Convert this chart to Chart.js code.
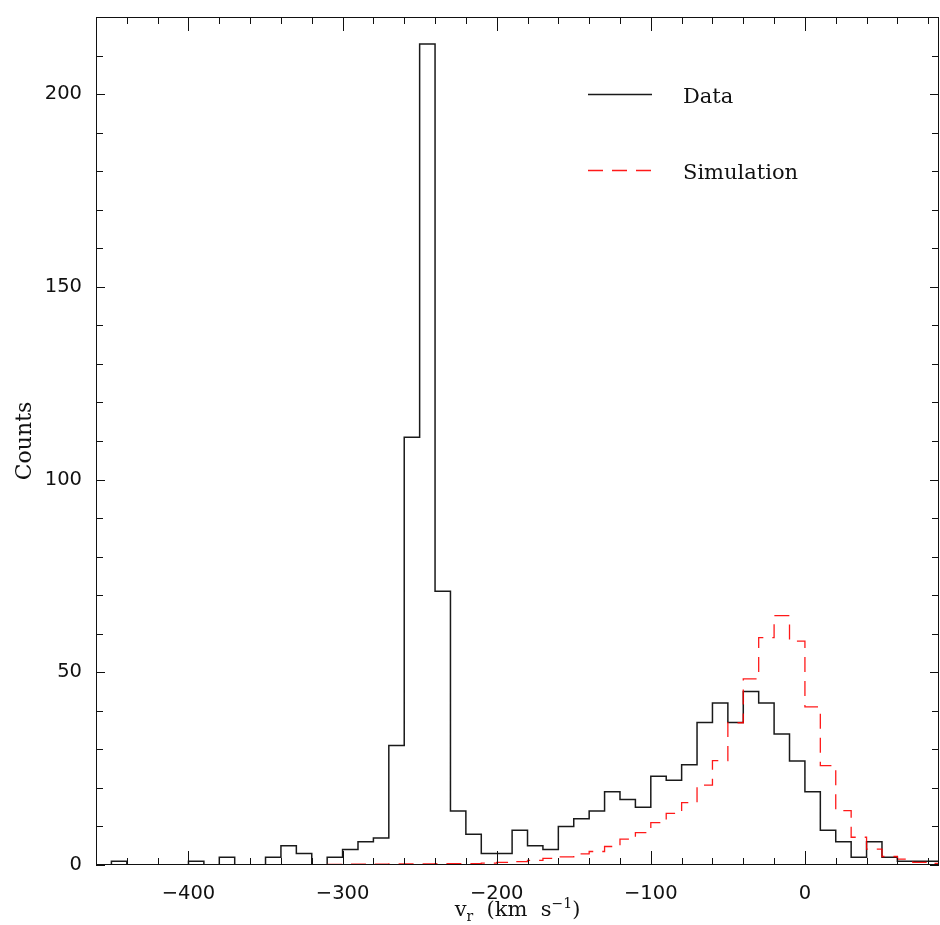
<!DOCTYPE html>
<html>
<head>
<meta charset="utf-8">
<script src="https://cdn.jsdelivr.net/npm/chart.js@4.4.1/dist/chart.umd.min.js"></script>
<style>
  html, body { margin: 0; padding: 0; background: #fff; }
</style>
</head>
<body>
<canvas id="histChart" width="940" height="925"></canvas>
<script>
// left edge of every 10 km/s bin
const binLeft = [
  -460, -450, -440, -430, -420, -410, -400, -390, -380, -370, -360,
  -350, -340, -330, -320, -310, -300, -290, -280, -270, -260,
  -250, -240, -230, -220, -210, -200, -190, -180, -170, -160,
  -150, -140, -130, -120, -110, -100, -90, -80, -70, -60,
  -50, -40, -30, -20, -10, 0, 10, 20, 30, 40, 50, 60, 70, 80
];
const binWidth = 10;

const dataCounts = [
  0, 1, 0, 0, 0, 0, 1, 0, 2, 0, 0,
  2, 5, 3, 0, 2, 4, 6, 7, 31, 111,
  213, 71, 14, 8, 3, 3, 9, 5, 4, 10,
  12, 14, 19, 17, 15, 23, 22, 26, 37, 42,
  37, 45, 42, 34, 27, 19, 9, 6, 2, 6, 2, 1, 1, 1
];

const simCounts = [
  null, null, null, null, null, null, null, null, null, null, null,
  null, null, null, null, 0.15, 0.2, 0.2, 0.25, 0.3, 0.3,
  0.3, 0.35, 0.35, 0.35, 0.5, 0.7, 0.9, 1.2, 1.7, 2.1,
  2.9, 3.5, 4.8, 6.7, 8.4, 11, 13.4, 16.2, 20.7, 27.1,
  36.9, 48.3, 59, 64.7, 58.1, 41, 25.8, 14.1, 7.2, 4.1, 2.2, 1.5, 0.7, 0.4
];

const xTickValues = [-400, -300, -200, -100, 0];
const yTickValues = [0, 50, 100, 150, 200];
const seriesNames = ["Data", "Simulation"];

// turn bins into step points (value held until the next edge)
function stepPoints(counts) {
  const pts = [];
  let last = null;
  counts.forEach((c, i) => {
    if (c === null) return;
    pts.push({ x: binLeft[i], y: c });
    last = i;
  });
  if (last !== null) pts.push({ x: binLeft[last] + binWidth, y: counts[last] });
  return pts;
}

const minus = (v) => String(v).replace("-", "\u2212");

const framePlugin = {
  id: "frame",
  afterDatasetsDraw(chart) {
    const { ctx, chartArea: a, scales } = chart;
    const xs = scales.x, ys = scales.y;
    ctx.save();
    ctx.strokeStyle = "#111";
    ctx.lineWidth = 1;
    ctx.strokeRect(a.left + 0.5, a.top + 0.5, a.right - a.left - 1, a.bottom - a.top - 1);

    ctx.beginPath();
    // x ticks every 20, long at every 100
    for (let v = xs.min; v <= xs.max; v++) {
      if (v % 20 !== 0) continue;
      const px = Math.round(xs.getPixelForValue(v)) + 0.5;
      const len = v % 100 === 0 ? 14 : 7;
      ctx.moveTo(px, a.bottom); ctx.lineTo(px, a.bottom - len);
      ctx.moveTo(px, a.top); ctx.lineTo(px, a.top + len);
    }
    // y ticks every 10
    for (let v = ys.min; v < ys.max; v += 10) {
      const py = Math.round(ys.getPixelForValue(v)) + 0.5;
      const len = v % 50 === 0 ? 9 : 7;
      ctx.moveTo(a.left, py); ctx.lineTo(a.left + len, py);
      ctx.moveTo(a.right, py); ctx.lineTo(a.right - len, py);
    }
    ctx.stroke();

    // y title
    ctx.fillStyle = "#111";
    ctx.font = "22px 'DejaVu Serif'";
    ctx.textAlign = "center";
    ctx.textBaseline = "middle";
    ctx.save();
    ctx.translate(25, (a.top + a.bottom) / 2);
    ctx.rotate(-Math.PI / 2);
    ctx.fillText("Counts", 0, 0);
    ctx.restore();

    // x title: v_r (km s^-1)
    const big = "21px 'DejaVu Serif'", small = "14px 'DejaVu Serif'";
    const parts = [
      { t: "v", f: big, dy: 0 },
      { t: "r", f: small, dy: 5 },
      { t: "  (km  s", f: big, dy: 0 },
      { t: "\u22121", f: small, dy: -8 },
      { t: ")", f: big, dy: 0 }
    ];
    let total = 0;
    parts.forEach(p => { ctx.font = p.f; p.w = ctx.measureText(p.t).width; total += p.w; });
    let cx = (a.left + a.right) / 2 - total / 2;
    ctx.textAlign = "left";
    ctx.textBaseline = "alphabetic";
    parts.forEach(p => { ctx.font = p.f; ctx.fillText(p.t, cx, 916 + p.dy); cx += p.w; });

    // legend
    const lx0 = a.right - 351, lx1 = a.right - 287, tx = a.right - 256;
    const ly = [a.top + 77, a.top + 153];
    chart.data.datasets.forEach((ds, i) => {
      ctx.beginPath();
      ctx.strokeStyle = ds.borderColor;
      ctx.lineWidth = ds.borderWidth;
      ctx.setLineDash(ds.borderDash || []);
      ctx.moveTo(lx0, ly[i] + 0.5); ctx.lineTo(lx1, ly[i] + 0.5);
      ctx.stroke();
      ctx.setLineDash([]);
      ctx.fillStyle = "#111";
      ctx.font = "21px 'DejaVu Serif'";
      ctx.fillText(seriesNames[i], tx, ly[i] + 9);
    });
    ctx.restore();
  }
};

new Chart(document.getElementById("histChart"), {
  type: "line",
  data: {
    datasets: [
      {
        label: seriesNames[0],
        data: stepPoints(dataCounts),
        stepped: true,
        borderColor: "#1a1a1a",
        borderWidth: 1.5,
        pointRadius: 0,
        fill: false,
        order: 2
      },
      {
        label: seriesNames[1],
        data: stepPoints(simCounts),
        stepped: true,
        borderColor: "rgba(255, 0, 0, 0.9)",
        borderWidth: 1.3,
        borderDash: [15, 9],
        pointRadius: 0,
        fill: false,
        order: 1
      }
    ]
  },
  options: {
    responsive: false,
    animation: false,
    devicePixelRatio: 1,
    layout: { padding: { top: 17, right: 1, left: 0, bottom: 0 } },
    plugins: {
      legend: { display: false },
      tooltip: { enabled: false }
    },
    scales: {
      x: {
        type: "linear",
        min: -460,
        max: 87,
        grid: { display: false },
        border: { display: false },
        afterFit(s) { s.height = 60; s.paddingLeft = 0; s.paddingRight = 0; },
        afterBuildTicks(s) { s.ticks = xTickValues.map(v => ({ value: v })); },
        ticks: {
          font: { family: "DejaVu Sans", size: 19.5 },
          color: "#111",
          padding: 9,
          maxRotation: 0,
          autoSkip: false,
          callback: (v) => minus(v)
        }
      },
      y: {
        min: 0,
        max: 220,
        grid: { display: false },
        border: { display: false },
        afterFit(s) { s.width = 96; s.paddingTop = 0; s.paddingBottom = 0; },
        afterBuildTicks(s) { s.ticks = yTickValues.map(v => ({ value: v })); },
        ticks: {
          font: { family: "DejaVu Sans", size: 19.5 },
          color: "#111",
          padding: 6,
          autoSkip: false,
          callback: (v) => minus(v)
        }
      }
    }
  },
  plugins: [framePlugin]
});
</script>
</body>
</html>
